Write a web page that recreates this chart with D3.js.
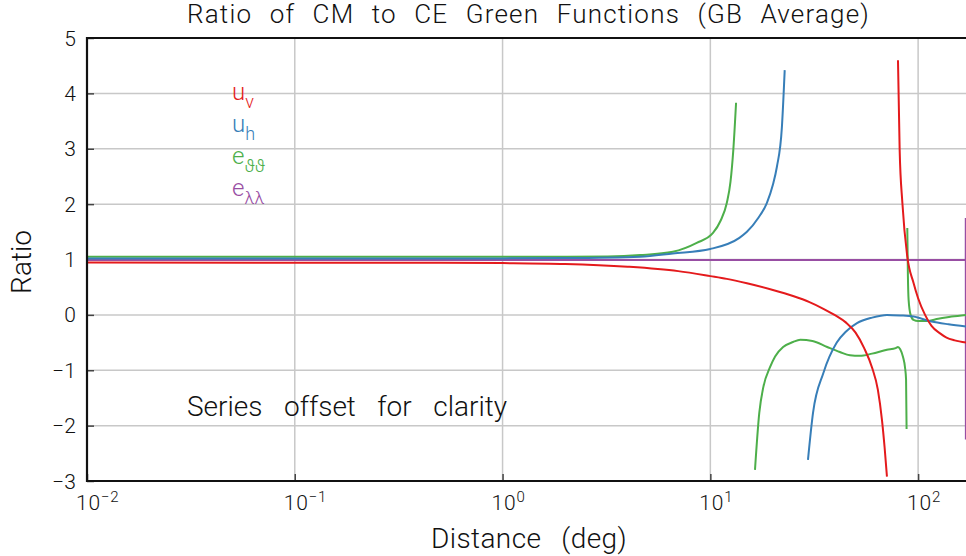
<!DOCTYPE html>
<html>
<head>
<meta charset="utf-8">
<script src="https://cdn.jsdelivr.net/npm/d3@7"></script>
<style>
  body { margin: 0; background: #fff; }
  text { font-family: Roboto, "DejaVu Sans", sans-serif; font-weight: 300; fill: #111; }
</style>
</head>
<body>
<div id="chart"></div>
<script>
// chart data
var xTicks = [0.01, 0.1, 1, 10, 100];
var xTickExp = ["\u22122", "\u22121", "0", "1", "2"];
var yTicks = [-3, -2, -1, 0, 1, 2, 3, 4, 5];

// u_v (red) - two branches
var uvDist1 = [0.01, 0.1, 0.5, 1, 2, 4, 7, 10, 12, 15, 20, 25, 30, 35, 40, 45, 50, 55, 60, 64, 67, 69, 70.8];
var uvVal1  = [0.945, 0.94, 0.94, 0.935, 0.92, 0.87, 0.79, 0.70, 0.65, 0.57, 0.45, 0.34, 0.23, 0.11, -0.01, -0.14, -0.32, -0.6, -0.95, -1.35, -1.9, -2.4, -2.92];
var uvDist2 = [80, 81.5, 84, 88.7, 95, 100, 108, 116, 127, 137, 150, 170];
var uvVal2  = [4.6, 2.98, 2.02, 1.05, 0.58, 0.3, 0.0, -0.2, -0.33, -0.41, -0.46, -0.5];

// u_h (blue)
var uhDist1 = [0.01, 0.1, 1, 2, 4.6, 6.6, 10, 13.8, 15, 17, 18.7, 20, 20.9, 22.1, 22.8];
var uhVal1  = [1.02, 1.02, 1.02, 1.025, 1.05, 1.11, 1.19, 1.39, 1.5, 1.75, 2.02, 2.35, 2.67, 3.39, 4.42];
var uhDist2 = [29.5, 31.2, 35, 40.6, 45, 50.8, 60, 70.8, 82, 95, 116, 140, 170];
var uhVal2  = [-2.62, -1.77, -1.05, -0.5, -0.3, -0.15, -0.05, 0.0, -0.01, -0.03, -0.12, -0.17, -0.21];

// e_thth (green)
var ettDist1 = [0.01, 0.1, 1, 2, 3.2, 4.6, 6.6, 8.6, 10.3, 11.2, 12, 12.5, 12.9, 13.3];
var ettVal1  = [1.05, 1.05, 1.05, 1.05, 1.055, 1.08, 1.14, 1.3, 1.48, 1.7, 2.02, 2.4, 2.98, 3.83];
var ettDist2 = [16.4, 17.2, 18, 19.4, 20.5, 22.4, 25, 27.1, 31, 36.5, 42, 47, 52.4, 60, 70.8, 78, 80, 82, 84.6, 86.5, 87.5, 88];
var ettVal2  = [-2.8, -1.77, -1.3, -0.94, -0.75, -0.58, -0.49, -0.45, -0.47, -0.58, -0.67, -0.73, -0.74, -0.7, -0.63, -0.6, -0.58, -0.62, -0.76, -0.95, -1.17, -2.06];
var ettDist3 = [88.7, 89.3, 90, 92, 95, 100, 110, 125, 145, 170];
var ettVal3  = [1.57, 0.7, 0.27, 0.0, -0.09, -0.11, -0.11, -0.07, -0.03, 0.0];

// e_ll (purple)
var ellDist = [0.01, 169.5, 169.6, 169.8];
var ellVal  = [0.99, 0.99, 1.75, -2.25];

var colors = { uv: "#e41a1c", uh: "#377eb8", ett: "#4daf4a", ell: "#984ea3" };

var width = 966, height = 556;
var plotL = 87, plotR = 966, plotT = 38, plotB = 481;

var svg = d3.select("#chart").append("svg")
    .attr("width", width)
    .attr("height", height);

var x = d3.scaleLog().domain([0.01, 170]).range([plotL, plotR]);
var y = d3.scaleLinear().domain([-3, 5]).range([plotB, plotT]);

svg.append("defs").append("clipPath").attr("id", "clip")
  .append("rect").attr("x", plotL).attr("y", plotT).attr("width", plotR - plotL).attr("height", plotB - plotT);

// grid
var grid = svg.append("g").attr("class", "grid");
grid.selectAll("line.gx").data(xTicks.slice(1)).enter().append("line")
    .attr("x1", function(d) { return x(d); }).attr("x2", function(d) { return x(d); })
    .attr("y1", plotT).attr("y2", plotB)
    .attr("stroke", "#c8c8c8").attr("stroke-width", 1.5);
grid.selectAll("line.gy").data(yTicks.slice(1, -1)).enter().append("line")
    .attr("x1", plotL).attr("x2", plotR)
    .attr("y1", function(d) { return y(d); }).attr("y2", function(d) { return y(d); })
    .attr("stroke", "#c8c8c8").attr("stroke-width", 1.5);

// axes with inward ticks
var xAxis = svg.append("g").attr("transform", "translate(0," + plotB + ")")
    .call(d3.axisBottom(x).tickValues(xTicks).tickSize(-7).tickFormat(""));
var yAxis = svg.append("g").attr("transform", "translate(" + plotL + ",0)")
    .call(d3.axisLeft(y).tickValues(yTicks).tickSize(-7).tickFormat(""));
[xAxis, yAxis].forEach(function(a) {
    a.select(".domain").remove();
    a.selectAll(".tick line").attr("stroke", "#444").attr("stroke-width", 1.5);
});

// curves
var line = d3.line()
    .x(function(d) { return x(d[0]); })
    .y(function(d) { return y(d[1]); });

function pairs(xs, ys) { return xs.map(function(v, i) { return [v, ys[i]]; }); }

var series = [
    { c: colors.ell, d: pairs(ellDist, ellVal), curve: d3.curveLinear },
    { c: colors.ett, d: pairs(ettDist1, ettVal1) },
    { c: colors.ett, d: pairs(ettDist2, ettVal2) },
    { c: colors.ett, d: pairs(ettDist3, ettVal3) },
    { c: colors.uh, d: pairs(uhDist1, uhVal1) },
    { c: colors.uh, d: pairs(uhDist2, uhVal2) },
    { c: colors.uv, d: pairs(uvDist1, uvVal1) },
    { c: colors.uv, d: pairs(uvDist2, uvVal2) }
];

var plot = svg.append("g").attr("clip-path", "url(#clip)");
series.forEach(function(s) {
    plot.append("path")
        .attr("d", line.curve(s.curve || d3.curveMonotoneX)(s.d))
        .attr("fill", "none")
        .attr("stroke", s.c)
        .attr("stroke-width", 2);
});

// frame (right side runs off the picture)
svg.append("path")
    .attr("d", "M" + (plotR + 5) + "," + plotT + "H" + plotL + "V" + plotB + "H" + (plotR + 5))
    .attr("fill", "none").attr("stroke", "#111").attr("stroke-width", 2.2);

// tick labels
var xl = svg.append("g").selectAll("text").data(xTicks).enter().append("text")
    .attr("x", function(d) { return x(d) - 11; })
    .attr("y", 510)
    .attr("font-size", 21)
    .attr("letter-spacing", 0.8);
xl.append("tspan").text("10");
xl.append("tspan").attr("dy", -8).attr("font-size", 15)
    .text(function(d, i) { return xTickExp[i]; });

svg.append("g").selectAll("text").data(yTicks).enter().append("text")
    .attr("x", 76)
    .attr("y", function(d) { return y(d) + 7.5; })
    .attr("text-anchor", "end")
    .attr("font-size", 21)
    .text(function(d) { return d < 0 ? "\u2212" + Math.abs(d) : d; });

// stretch word gaps so a label fills the width the reference gives it
function fitWords(sel, target) {
    var w = sel.node().getComputedTextLength();
    var gaps = sel.text().split(" ").length - 1;
    if (gaps > 0) sel.attr("word-spacing", (target - w) / gaps);
}

var title = svg.append("text").attr("x", 187).attr("y", 23).attr("font-size", 26)
    .attr("letter-spacing", 1.2)
    .text("Ratio of CM to CE Green Functions (GB Average)");
fitWords(title, 683);

var xlab = svg.append("text").attr("x", 431).attr("y", 548).attr("font-size", 28)
    .attr("letter-spacing", 0.4)
    .text("Distance (deg)");
fitWords(xlab, 196);

svg.append("text")
    .attr("transform", "translate(31,262) rotate(-90)")
    .attr("text-anchor", "middle")
    .attr("font-size", 28)
    .text("Ratio");

var note = svg.append("text").attr("x", 187).attr("y", 416).attr("font-size", 28)
    .text("Series offset for clarity");
fitWords(note, 320);

// legend
var legend = [
    { base: "u", sub: "v", c: colors.uv, y: 100 },
    { base: "u", sub: "h", c: colors.uh, y: 132 },
    { base: "e", sub: "\u03d1\u03d1", c: colors.ett, y: 164 },
    { base: "e", sub: "\u03bb\u03bb", c: colors.ell, y: 196 }
];
var lg = svg.append("g").selectAll("text").data(legend).enter().append("text")
    .attr("x", 232)
    .attr("y", function(d) { return d.y; })
    .attr("font-size", 24)
    .style("fill", function(d) { return d.c; });
lg.append("tspan").text(function(d) { return d.base; });
lg.append("tspan").attr("dy", 8).attr("font-size", 18)
    .text(function(d) { return d.sub; });
</script>
</body>
</html>
